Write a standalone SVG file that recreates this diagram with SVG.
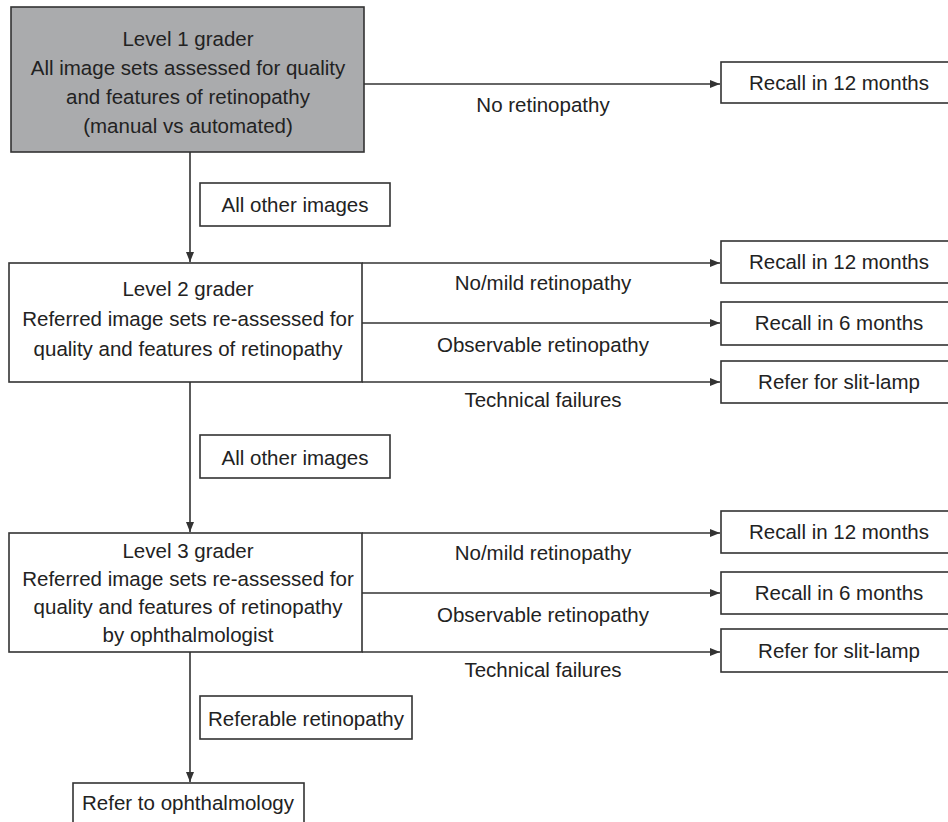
<svg xmlns="http://www.w3.org/2000/svg" width="948" height="822" viewBox="0 0 948 822">
<defs>
<style>
.box{fill:#fff;stroke:#333;stroke-width:1.6}
.grey{fill:#aaabad;stroke:#333;stroke-width:1.6}
.ln{stroke:#333;stroke-width:1.6;fill:none}
text{font-family:"Liberation Sans",Arial,sans-serif;font-size:20.5px;fill:#222;text-anchor:middle}
</style>
<marker id="ah" viewBox="0 0 10 8" refX="10" refY="4" markerWidth="10" markerHeight="8" markerUnits="userSpaceOnUse" orient="auto">
<path d="M0,0 L10,4 L0,8 z" fill="#333"/>
</marker>
</defs>
<g id="connectors">
<line class="ln" x1="364" y1="84" x2="720" y2="84" marker-end="url(#ah)"/>
<line class="ln" x1="190" y1="152" x2="190" y2="262" marker-end="url(#ah)"/>
<line class="ln" x1="362" y1="263" x2="720" y2="263" marker-end="url(#ah)"/>
<line class="ln" x1="362" y1="323" x2="720" y2="323" marker-end="url(#ah)"/>
<line class="ln" x1="362" y1="382" x2="720" y2="382" marker-end="url(#ah)"/>
<line class="ln" x1="190" y1="382" x2="190" y2="532" marker-end="url(#ah)"/>
<line class="ln" x1="362" y1="533" x2="720" y2="533" marker-end="url(#ah)"/>
<line class="ln" x1="362" y1="593" x2="720" y2="593" marker-end="url(#ah)"/>
<line class="ln" x1="362" y1="652" x2="720" y2="652" marker-end="url(#ah)"/>
<line class="ln" x1="190" y1="652" x2="190" y2="782" marker-end="url(#ah)"/>
<text x="543" y="112">No retinopathy</text>
<text x="543" y="290">No/mild retinopathy</text>
<text x="543" y="352">Observable retinopathy</text>
<text x="543" y="407">Technical failures</text>
<text x="543" y="560">No/mild retinopathy</text>
<text x="543" y="622">Observable retinopathy</text>
<text x="543" y="677">Technical failures</text>
</g>
<g id="level1">
<rect class="grey" x="11" y="7" width="353" height="145"/>
<text x="188" y="46">Level 1 grader</text>
<text x="188" y="75">All image sets assessed for quality</text>
<text x="188" y="104">and features of retinopathy</text>
<text x="188" y="133">(manual vs automated)</text>
</g>
<g id="r1">
<rect class="box" x="721" y="62" width="240" height="41"/>
<text x="839" y="90">Recall in 12 months</text>
</g>
<g id="other1">
<rect class="box" x="200" y="183" width="190" height="43"/>
<text x="295" y="212">All other images</text>
</g>
<g id="level2">
<rect class="box" x="9" y="263" width="353" height="119"/>
<text x="188" y="296">Level 2 grader</text>
<text x="188" y="326">Referred image sets re-assessed for</text>
<text x="188" y="356">quality and features of retinopathy</text>
</g>
<g id="r2a">
<rect class="box" x="721" y="241" width="240" height="42"/>
<text x="839" y="269">Recall in 12 months</text>
</g>
<g id="r2b">
<rect class="box" x="721" y="302" width="240" height="43"/>
<text x="839" y="330">Recall in 6 months</text>
</g>
<g id="r2c">
<rect class="box" x="721" y="361" width="240" height="42"/>
<text x="839" y="389">Refer for slit-lamp</text>
</g>
<g id="other2">
<rect class="box" x="200" y="435" width="190" height="43"/>
<text x="295" y="465">All other images</text>
</g>
<g id="level3">
<rect class="box" x="9" y="533" width="353" height="119"/>
<text x="188" y="558">Level 3 grader</text>
<text x="188" y="586">Referred image sets re-assessed for</text>
<text x="188" y="614">quality and features of retinopathy</text>
<text x="188" y="642">by ophthalmologist</text>
</g>
<g id="r3a">
<rect class="box" x="721" y="511" width="240" height="42"/>
<text x="839" y="539">Recall in 12 months</text>
</g>
<g id="r3b">
<rect class="box" x="721" y="572" width="240" height="42"/>
<text x="839" y="600">Recall in 6 months</text>
</g>
<g id="r3c">
<rect class="box" x="721" y="629" width="240" height="43"/>
<text x="839" y="658">Refer for slit-lamp</text>
</g>
<g id="referable">
<rect class="box" x="200" y="696" width="212" height="43"/>
<text x="306" y="726">Referable retinopathy</text>
</g>
<g id="ophth">
<rect class="box" x="73" y="783" width="231" height="50"/>
<text x="188" y="810">Refer to ophthalmology</text>
</g>
</svg>
